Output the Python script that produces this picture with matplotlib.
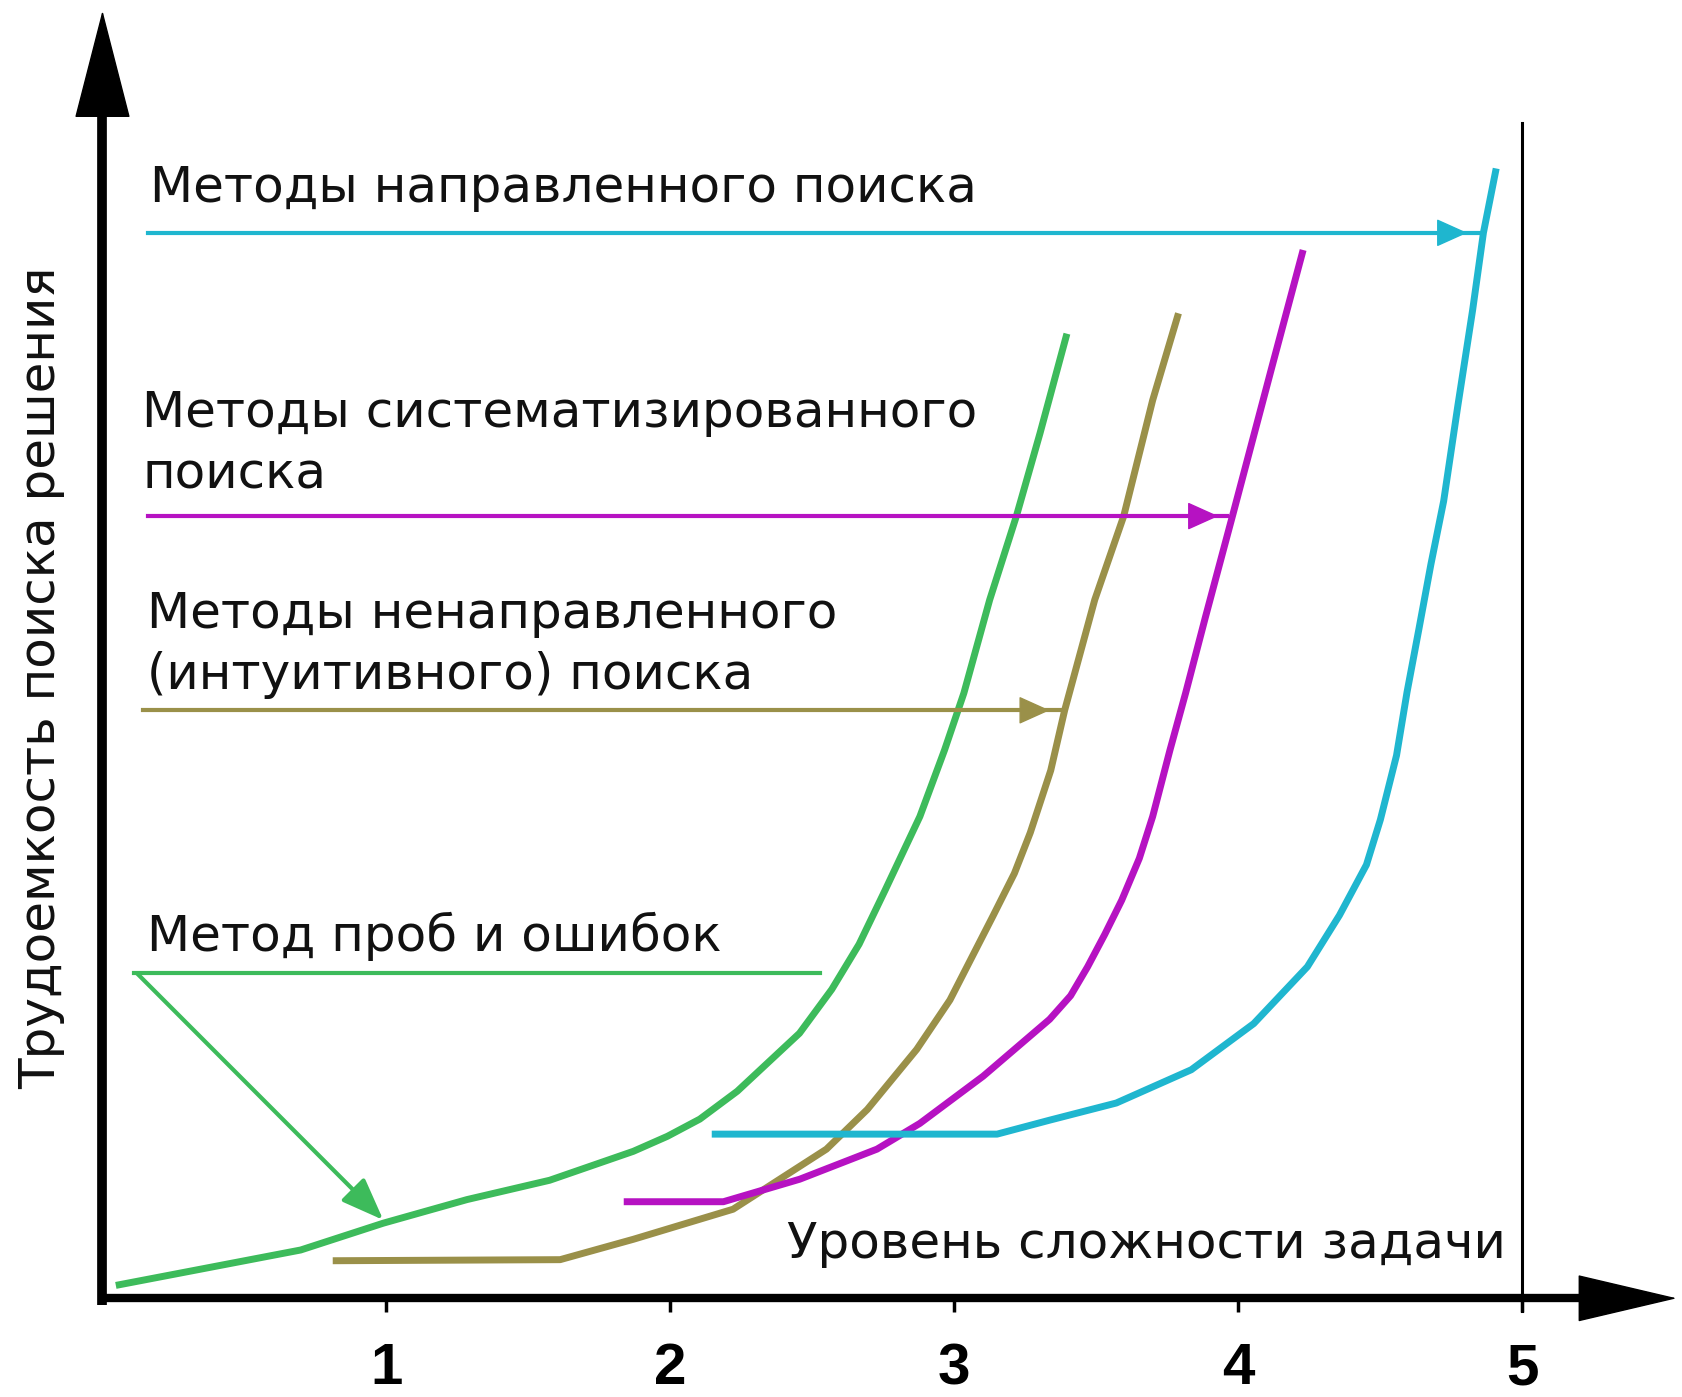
import matplotlib.pyplot as plt

# curve data (x: task complexity level, y: labour intensity)
green_x = [0.047, 0.698, 0.989, 1.284, 1.575, 1.870, 1.990, 2.104, 2.236, 2.455, 2.569, 2.665,
           2.756, 2.879, 2.966, 3.034, 3.125, 3.219, 3.302, 3.397]
green_y = [0.12, 0.45, 0.70, 0.92, 1.10, 1.37, 1.51, 1.67, 1.93, 2.47, 2.88, 3.30,
           3.80, 4.49, 5.11, 5.64, 6.51, 7.29, 8.06, 8.99]

olive_x = [0.811, 1.612, 1.870, 2.221, 2.456, 2.550, 2.694, 2.868, 2.985, 3.136, 3.212, 3.268,
           3.340, 3.389, 3.495, 3.597, 3.699, 3.790]
olive_y = [0.35, 0.36, 0.55, 0.83, 1.23, 1.39, 1.76, 2.32, 2.78, 3.56, 3.96, 4.34,
           4.92, 5.48, 6.51, 7.29, 8.37, 9.18]

magenta_x = [1.836, 2.187, 2.456, 2.728, 2.879, 3.102, 3.336, 3.410, 3.470, 3.530, 3.590, 3.652,
             3.699, 3.760, 3.815, 3.885, 3.983, 4.119, 4.229]
magenta_y = [0.90, 0.90, 1.11, 1.39, 1.63, 2.07, 2.60, 2.82, 3.09, 3.39, 3.71, 4.10,
             4.49, 5.11, 5.64, 6.35, 7.32, 8.68, 9.77]

cyan_x = [2.146, 3.151, 3.336, 3.571, 3.835, 4.055, 4.244, 4.357, 4.452, 4.501, 4.558,
          4.595, 4.637, 4.679, 4.724, 4.774, 4.826, 4.864, 4.909]
cyan_y = [1.53, 1.53, 1.66, 1.82, 2.13, 2.56, 3.09, 3.57, 4.04, 4.46, 5.06,
          5.65, 6.24, 6.84, 7.43, 8.32, 9.21, 9.93, 10.53]

ticks = [1, 2, 3, 4, 5]
tick_labels = ["1", "2", "3", "4", "5"]

# method labels and the pointer lines that lead to their curves
labels = [["Методы направленного поиска"],
          ["Методы систематизированного", "поиска"],
          ["Методы ненаправленного", "(интуитивного) поиска"],
          ["Метод проб и ошибок"]]
label_x = [0.168, 0.140, 0.158, 0.158]
label_y = [10.22, 8.12, 6.25, 3.24]
pointer_y = [9.93, 7.29, 5.48, 3.03]
pointer_x0 = [0.161, 0.161, 0.142, 0.110]
pointer_x1 = [4.864, 3.960, 3.389, 2.527]
head_x = [4.807, 3.930, 3.336]

green = "#3dbb5b"
olive = "#9a9049"
magenta = "#b612c2"
cyan = "#1fb6cf"
colors = [cyan, magenta, olive, green]

plt.rcParams['font.family'] = ['DejaVu Sans']

fig = plt.figure(figsize=(16.83, 13.97), dpi=100)
ax = fig.add_axes([0, 0, 1, 1])
ax.set_xlim(-0.361, 5.567)
ax.set_ylim(-0.92, 12.10)
ax.axis("off")

# axes with arrow heads
ax.plot([0, 0], [-0.06, 11.1], color="black", lw=7, solid_capstyle="butt")
ax.plot([-0.015, 5.25], [0, 0], color="black", lw=6, solid_capstyle="butt")
ax.annotate("", xy=(0, 12.0), xytext=(0, 11.0),
            arrowprops=dict(arrowstyle="-|>,head_length=3.7,head_width=0.95",
                            mutation_scale=20, color="black", lw=1, shrinkA=0, shrinkB=0))
ax.annotate("", xy=(5.545, 0), xytext=(5.19, 0),
            arrowprops=dict(arrowstyle="-|>,head_length=3.4,head_width=0.8",
                            mutation_scale=20, color="black", lw=1, shrinkA=0, shrinkB=0))
ax.vlines(ticks, -0.13, 0, color="black", lw=2.5)
ax.plot([5, 5], [-0.12, 10.95], color="black", lw=2.2)
for t, lab in zip(ticks, tick_labels):
    ax.text(t, -0.66, lab, ha="center", va="center", fontsize=42, fontweight="bold",
            family=["Liberation Sans", "DejaVu Sans"])

# curves
for xs, ys, c in [(green_x, green_y, green), (olive_x, olive_y, olive),
                  (magenta_x, magenta_y, magenta), (cyan_x, cyan_y, cyan)]:
    ax.plot(xs, ys, color=c, lw=5, solid_capstyle="butt", solid_joinstyle="round")

# text labels and pointers
for i, lines in enumerate(labels):
    for j, line in enumerate(lines):
        ax.text(label_x[i], label_y[i] - 0.575 * j, line, ha="left", va="baseline",
                fontsize=36, color="#111111")
    ax.plot([pointer_x0[i], pointer_x1[i]], [pointer_y[i], pointer_y[i]],
            color=colors[i], lw=3)
    if i < 3:
        ax.annotate("", xy=(head_x[i], pointer_y[i]), xytext=(head_x[i] - 0.1, pointer_y[i]),
                    arrowprops=dict(arrowstyle="-|>,head_length=1.0,head_width=0.45",
                                    mutation_scale=20, color=colors[i], lw=1,
                                    shrinkA=0, shrinkB=0))

# trial-and-error pointer goes down to the green curve
ax.annotate("", xy=(0.989, 0.73), xytext=(0.121, 3.03),
            arrowprops=dict(arrowstyle="-|>,head_length=1.3,head_width=0.5",
                            mutation_scale=20, color=green, lw=3, shrinkA=0, shrinkB=0))

ax.text(2.411, 0.38, "Уровень сложности задачи", ha="left", va="baseline",
        fontsize=36, color="#111111")
ax.text(-0.217, 5.78, "Трудоемкость поиска решения", ha="center", va="center",
        rotation=90, fontsize=36, color="#111111")

fig.savefig("out.png", dpi=100, facecolor="white")
